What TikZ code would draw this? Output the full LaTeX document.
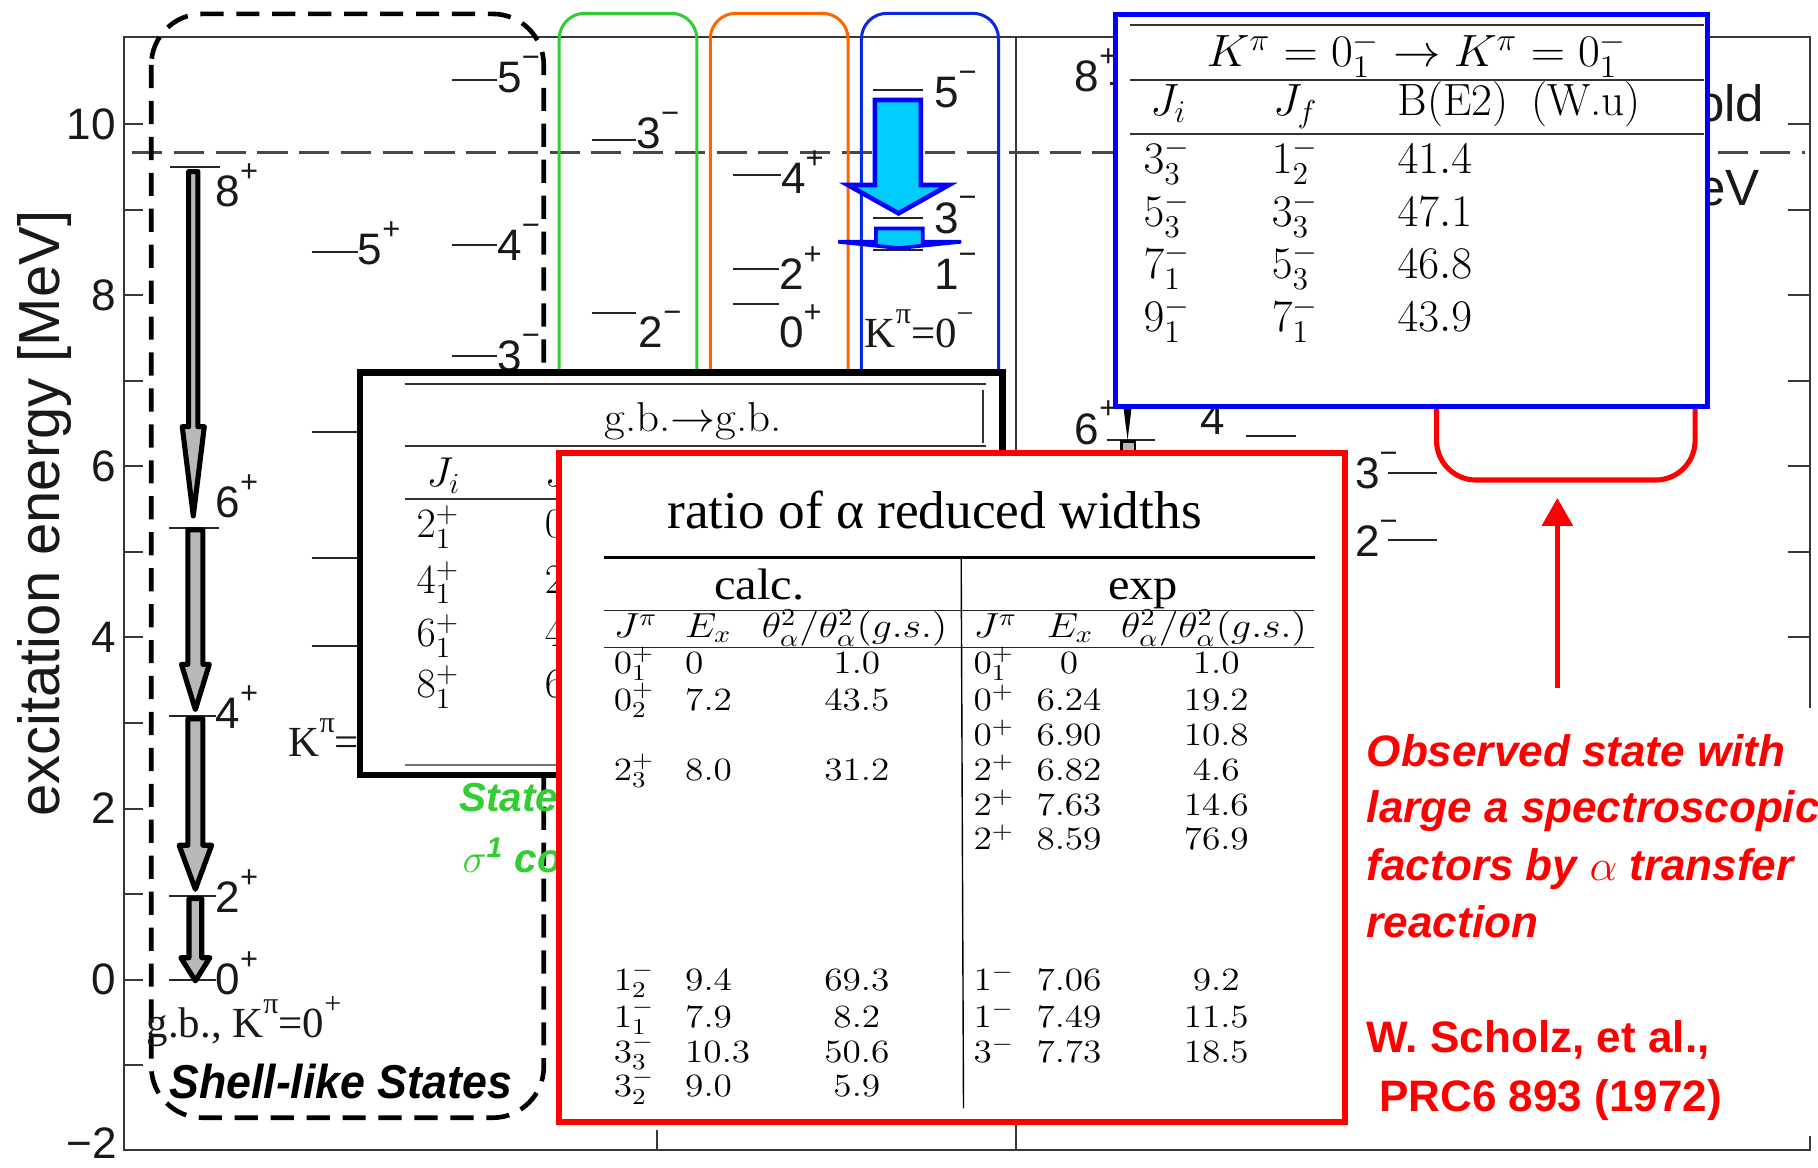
\RequirePackage{fix-cm}
\documentclass[tikz,border=0pt]{standalone}
\usepackage{fontspec}
\usepackage{graphicx}
\newfontfamily\sansf{Liberation Sans}
\newfontfamily\serff{Liberation Serif}
\usetikzlibrary{arrows.meta}
\newcommand{\fsz}[1]{\fontsize{#1pt}{#1pt}\selectfont}
\newcommand{\hst}[1]{\scalebox{1.15}[1]{#1}}
\newcommand{\up}[1]{\raisebox{0.57em}{\scalebox{0.7}{#1}}}
\definecolor{cgreen}{RGB}{50,205,50}
\definecolor{corange}{RGB}{255,102,0}
\definecolor{cblue}{RGB}{10,40,220}
\definecolor{ccyan}{RGB}{0,204,255}
\definecolor{tblue}{RGB}{0,0,255}
\definecolor{cred}{RGB}{255,0,0}
\begin{document}
\begin{tikzpicture}[x=0.5pt,y=-0.5pt,
  every node/.style={inner sep=0pt,outer sep=0pt},
  frame/.style={draw=black!78,line width=0.85pt},
  lvl/.style={draw=black!85,line width=0.9pt},
  lab/.style={font=\sansf\fsz{19},text=black!90,anchor=base west},
  tlab/.style={font=\sansf\fsz{19},text=black!90,anchor=east},
  slab/.style={font=\serff\fsz{18.5},text=black!90,anchor=base west},
  colbox/.style={line width=1.3pt,rounded corners=11pt},
  gbarrow/.style={draw=black,fill=black!28,line width=2.2pt,line join=round},
  cyanarrow/.style={draw=tblue,fill=ccyan,line width=2pt},
  rrow/.style={font=\fsz{14},anchor=base west},
  rrowc/.style={font=\fsz{14},anchor=base},
  rhead/.style={font=\fsz{15},anchor=base west},
  brow/.style={font=\fsz{19.5},anchor=base west},
  krow/.style={font=\fsz{18},anchor=base west},
  trule/.style={draw=black!80,line width=0.8pt},
  redtxt/.style={font=\sansf\bfseries\itshape\fsz{19},text=cred,anchor=base west},
  redref/.style={font=\sansf\bfseries\fsz{19},text=cred,anchor=base west},
  greentxt/.style={font=\sansf\bfseries\itshape\fsz{17.5},text=cgreen,anchor=base west}]
\useasboundingbox (0,0) rectangle (1568,1007);
\fill[white] (0,0) rectangle (1568,1007);

% ---------- frame and axis ----------
\draw[frame] (107,32.2) rectangle (1561,992);
\draw[frame] (876,32.2) -- (876,992);
\foreach \e in {-1,...,10} {
  \draw[frame] (107,{107+(10-\e)*73.8}) -- ++(16.5,0);
  \draw[frame] (1561,{107+(10-\e)*73.8}) -- ++(-19,0);
}
\draw[frame] (567,992) -- (567,975);
\node[tlab] (t10) at (100,107) {10};
\node[tlab] (t8) at (100,254.6) {8};
\node[tlab] (t6) at (100,402.2) {6};
\node[tlab] (t4) at (100,549.8) {4};
\node[tlab] (t2) at (100,697.4) {2};
\node[tlab] (t0) at (100,845) {0};
\node[tlab] (tm2) at (101,986) {−2};
\node[font=\sansf\fsz{25},text=black!90,rotate=90,anchor=base] (ylab) at (51,443) {excitation energy [MeV]};

% threshold
\draw[draw=black!72,line width=1.15pt,dash pattern=on 13pt off 5pt] (114,131.7) -- (1557,131.7);

% ---------- left panel levels ----------
\draw[lvl] (146.8,143.8) -- (189.9,143.8); \node[lab] (l8p) at (186,178) {8\up{+}};
\draw[lvl] (146,455) -- (189,455);         \node[lab] (l6p) at (186,446) {6\up{+}};
\draw[lvl] (146,617.6) -- (186,617.6);     \node[lab] (l4p) at (186,628) {4\up{+}};
\draw[lvl] (146,772.5) -- (186,772.5);     \node[lab] (l2p) at (186,787) {2\up{+}};
\draw[lvl] (146,845) -- (186,845);         \node[lab] (l0p) at (186,858) {0\up{+}};

\draw[lvl] (389.5,69) -- (429,69);     \node[lab] (l5m) at (429,80) {5\up{−}};
\draw[lvl] (269,217) -- (308.6,217);   \node[lab] (l5p) at (308.6,228) {5\up{+}};
\draw[lvl] (389.5,211) -- (429,211);   \node[lab] (l4m) at (429,225) {4\up{−}};
\draw[lvl] (389.5,307) -- (429,307);   \node[lab] (l3m) at (429,320) {3\up{−}};
\draw[lvl] (269,372.3) -- (330,372.3);
\draw[lvl] (269,481.6) -- (330,481.6);
\draw[lvl] (269,557) -- (330,557);
\node[slab] (kpil) at (249,652.7) {K\up{π}=};

% green column levels
\draw[lvl] (510.3,120.8) -- (548.3,120.8); \node[lab] (g3m) at (549,128) {3\up{−}};
\draw[lvl] (510.3,269.7) -- (548.3,269.7); \node[lab] (g2m) at (551,300) {2\up{−}};
% orange column levels
\draw[lvl] (632.5,151) -- (673.6,151);   \node[lab] (o4p) at (673.6,166.7) {4\up{+}};
\draw[lvl] (632.5,232.3) -- (672,232.3); \node[lab] (o2p) at (672,250) {2\up{+}};
\draw[lvl] (632.5,262) -- (672,262);     \node[lab] (o0p) at (672,300) {0\up{+}};
% blue column levels
\draw[lvl] (753,77.6) -- (796,77.6); \node[lab] (b5m) at (805.6,93) {5\up{−}};
\draw[lvl] (753,188) -- (796,188);   \node[lab] (b3m) at (805.6,201) {3\up{−}};
\draw[lvl] (753,216) -- (796,216);   \node[lab] (b1m) at (805.6,250) {1\up{−}};
\node[slab] (kpib) at (746,300) {K\up{π}=0\up{−}};

% ---------- right panel levels ----------
\draw[lvl] (957,72) -- (1000,72);        \node[lab] (r8p) at (927,79) {8\up{+}};
\draw[lvl] (954.5,379.6) -- (996,379.6); \node[lab] (r6p) at (927,383) {6\up{+}};
\node[lab] (r4) at (1035,375) {4};       \draw[lvl] (1075,376) -- (1118,376);
\node[lab] (r3m) at (1168.7,421) {3\up{−}}; \draw[lvl] (1197,408) -- (1239,408);
\node[lab] (r2m) at (1168.7,480) {2\up{−}}; \draw[lvl] (1197,465.4) -- (1239,465.4);
\fill[black] (969,351.6) -- (976,351.6) -- (972.5,379.5) -- cycle;
\draw[black,fill=black!28,line width=1.2pt] (967,381) rectangle (979,400);
\node[font=\sansf\fsz{22},text=black!90,anchor=base west] (old) at (1463,105) {old};
\node[font=\sansf\fsz{22},text=black!90,anchor=base west] (ev) at (1464,177) {eV};

% ---------- ground band arrows ----------
\draw[gbarrow] (162.7,148) -- (170.7,148) -- (170.7,368) -- (176.2,368) -- (166.7,445) -- (157.2,368) -- (162.7,368) -- cycle;
\draw[gbarrow] (162,457) -- (175,457) -- (175,573) -- (180.5,573) -- (168.5,612) -- (156.5,573) -- (162,573) -- cycle;
\draw[gbarrow] (162,620) -- (175,620) -- (175,729) -- (182.5,729) -- (168.5,767) -- (154.5,729) -- (162,729) -- cycle;
\draw[gbarrow] (163,775) -- (174,775) -- (174,826) -- (181,826) -- (168.5,846) -- (156,826) -- (163,826) -- cycle;

% ---------- shell-like box ----------
\draw[black,line width=2pt,dash pattern=on 10pt off 5.5pt,rounded corners=22pt] (130.5,12) rectangle (469,964);
\node[font=\sansf\bfseries\itshape\fsz{20.5},anchor=base west] (shell) at (146,947) {\scalebox{0.94}[1]{Shell-like States}};
\node[slab] (gbk) at (126.5,895) {g.b., K\up{π}=0\up{+}};

% ---------- coloured column boxes ----------
\draw[colbox,cgreen] (482.3,11.5) rectangle (601,400);
\draw[colbox,corange] (612.6,11.5) rectangle (731.4,400);
\draw[colbox,cblue] (743,11.5) rectangle (861.2,400);

% cyan arrows
\draw[cyanarrow] (754.6,86.3) -- (794.2,86.3) -- (794.2,159.6) -- (818.3,159.6) -- (775,184) -- (731.4,159.6) -- (754.6,159.6) -- cycle;
\draw[cyanarrow,line width=1.6pt] (755.6,197) -- (795.8,197) -- (795.8,208.5) -- (829,208.5) -- (775,214) -- (723,208.5) -- (755.6,208.5) -- cycle;

% green text
\node[greentxt] (gst) at (396,699.5) {State};
\node[greentxt] (gsig) at (399,752.6) {$\sigma$\textsuperscript{1} co};

% ---------- black box: g.b. -> g.b. ----------
\draw[black,line width=2.9pt,fill=white] (310.5,321.5) rectangle (864.8,668.5);
\draw[trule] (349,331) -- (850,331);
\draw[trule] (848,336) -- (848,382);
\node[krow,anchor=base] (gbt) at (598,372) {\scalebox{1.08}[1]{g.b.$\rightarrow$g.b.}};
\draw[trule] (349,385) -- (850,385);
\node[krow] (bji) at (368,420) {$J_i$};
\node[krow] (bjf) at (470,420) {$J_f$};
\draw[trule] (349,430.7) -- (850,430.7);
\foreach \y/\a/\b [count=\i] in {464/2_1^+/0_1^+,511.7/4_1^+/2_1^+,557.8/6_1^+/4_1^+,602/8_1^+/6_1^+} {
  \node[krow] (bka\i) at (359.4,\y) {$\a$};
  \node[krow] (bkb\i) at (470,\y) {$\b$};
}
\draw[draw=black!55,line width=0.8pt] (349,659.8) -- (850,659.8);

% ---------- red U shape ----------
\draw[cred,line width=2.2pt,rounded corners=17pt] (1239,200) -- (1239,414) -- (1462,414) -- (1462,200);

% ---------- blue table ----------
\draw[tblue,line width=2.2pt,fill=white] (962.3,12.2) rectangle (1472.8,350.5);
\draw[trule] (974.7,21.5) -- (1470,21.5);
\node[brow,anchor=base] (ktitle) at (1222,57.5) {\scalebox{1.05}[1]{$K^\pi=0_1^-\rightarrow K^\pi=0_1^-$}};
\draw[trule] (974.7,69) -- (1470,69);
\node[brow] (kji) at (992,100) {$J_i$};
\node[brow] (kjf) at (1098,100) {$J_f$};
\node[brow] (kbe) at (1205.5,100) {B(E2)\hspace{4pt} (W.u)};
\draw[trule] (974.7,115.6) -- (1470,115.6);
\foreach \y/\a/\b/\c [count=\i] in {149.5/3_3^-/1_2^-/41.4,195.5/5_3^-/3_3^-/47.1,240/7_1^-/5_3^-/46.8,286/9_1^-/7_1^-/43.9} {
  \node[brow] (kra\i) at (986.3,\y) {$\a$};
  \node[brow] (krb\i) at (1096.9,\y) {$\b$};
  \node[brow] (krc\i) at (1205.5,\y) {$\c$};
}

% ---------- red table ----------
\draw[cred,line width=2.5pt,fill=white] (482,391) rectangle (1160,967.5);
\node[font=\serff\fsz{23},anchor=base west] (rtitle) at (575.6,455.6) {ratio of α reduced widths};
\draw[black,line width=1.5pt] (520.6,480.7) -- (1134,480.7);
\draw[black!85,line width=0.6pt] (520.6,526.7) -- (1133,526.7);
\draw[black!85,line width=0.6pt] (520.6,558.3) -- (1133,558.3);
\draw[black,line width=0.6pt] (829,481) -- (831,956);
\node[font=\serff\fsz{19},anchor=base] (calc) at (655,517) {\scalebox{1.1}[1]{calc.}};
\node[font=\serff\fsz{19},anchor=base] (expt) at (986,517) {\scalebox{1.1}[1]{exp}};
\node[rhead] (h1) at (529.4,550) {\hst{$J^\pi$}};
\node[rhead] (h2) at (591,550) {\hst{$E_x$}};
\node[rhead] (h3) at (657,550) {\hst{$\theta_\alpha^2/\theta_\alpha^2(g.s.)$}};
\node[rhead] (h4) at (839.7,550) {\hst{$J^\pi$}};
\node[rhead] (h5) at (903,550) {\hst{$E_x$}};
\node[rhead] (h6) at (967,550) {\hst{$\theta_\alpha^2/\theta_\alpha^2(g.s.)$}};
\foreach \y/\a/\b/\c [count=\i] in {581/0_1^+/0/1.0,612.5/0_2^+/7.2/43.5,673/2_3^+/8.0/31.2,854/1_2^-/9.4/69.3,886/1_1^-/7.9/8.2,916/3_3^-/10.3/50.6,946/3_2^-/9.0/5.9} {
  \node[rrow] (ca\i) at (529.4,\y) {\hst{$\a$}};
  \node[rrow] (cb\i) at (591,\y) {\hst{$\b$}};
  \node[rrowc] (cc\i) at (739,\y) {\hst{$\c$}};
}
\foreach \y/\a/\b/\c [count=\i] in {581/0_1^+/0/1.0,612.5/0^+/6.24/19.2,643/0^+/6.90/10.8,673/2^+/6.82/4.6,703/2^+/7.63/14.6,733/2^+/8.59/76.9,854/1^-/7.06/9.2,886/1^-/7.49/11.5,916/3^-/7.73/18.5} {
  \node[rrow] (ea\i) at (839.7,\y) {\hst{$\a$}};
  \node[rrowc] (eb\i) at (922,\y) {\hst{$\b$}};
  \node[rrowc] (ec\i) at (1049,\y) {\hst{$\c$}};
}

% ---------- annotation ----------
\fill[white] (1166,611) rectangle (1568,980);
\coordinate (arrbot) at (1343.2,593.4);
\coordinate (arrtop) at (1343.2,429.5);
\draw[cred,line width=2.2pt,-{Triangle[width=13pt,length=12pt]}] (arrbot) -- (arrtop);
\node[redtxt] (obs1) at (1178.8,660.7) {Observed state with};
\node[redtxt] (obs2) at (1178.8,709) {large a spectroscopic};
\node[redtxt] (obs3) at (1178.8,759) {factors by $\alpha$ transfer};
\node[redtxt] (obs4) at (1178.8,808.7) {reaction};
\node[redref] (ref1) at (1178.8,907.5) {W. Scholz, et al.,};
\node[redref] (ref2) at (1189.5,958.8) {PRC6 893 (1972)};
\end{tikzpicture}
\end{document}
